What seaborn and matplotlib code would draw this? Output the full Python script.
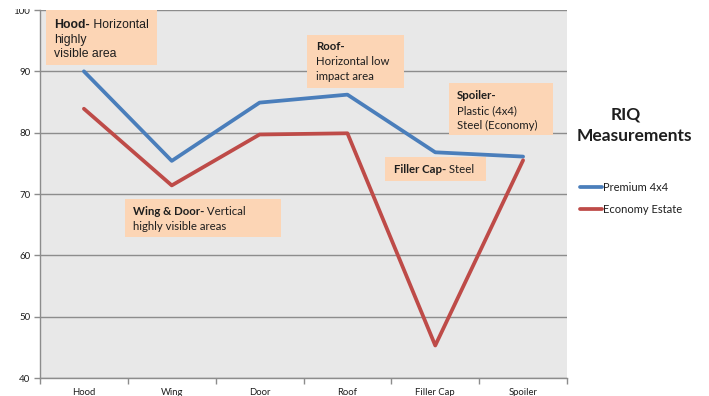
import matplotlib
matplotlib.use("Agg")
import matplotlib.pyplot as plt
import seaborn as sns
import pandas as pd
from matplotlib.patches import Rectangle
from matplotlib.text import Annotation
from matplotlib.ticker import FixedLocator

# RIQ readings per body panel
parts = ["Hood", "Wing", "Door", "Roof", "Filler Cap", "Spoiler"]
premium = [90.0, 75.4, 84.9, 86.2, 76.8, 76.1]
economy = [83.9, 71.4, 79.7, 79.9, 45.3, 75.5]
series_names = ["Premium 4x4", "Economy Estate"]
y_ticks = [40, 50, 60, 70, 80, 90, 100]

df = pd.DataFrame({
    "part": parts * 2,
    "riq": premium + economy,
    "series": [series_names[0]] * len(parts) + [series_names[1]] * len(parts),
})

BLUE = "#4a7ebb"
RED = "#be4b48"
PEACH = "#fcd5b5"
GRID = "#8c8c8c"
TXT = "#1e1e1e"
CAL = ["Lato", "DejaVu Sans"]
ARI = ["Liberation Sans", "DejaVu Sans"]

sns.set_theme(style="white")
plt.rcParams["font.family"] = CAL

W, H = 709, 396
fig = plt.figure(figsize=(W / 100, H / 100), dpi=100)
ax = fig.add_axes([40 / W, 1 - 378 / H, (567 - 40) / W, (378 - 10) / H])
ax.set_facecolor("#e8e8e8")

sns.lineplot(data=df, x="part", y="riq", hue="series", palette=[BLUE, RED],
             sort=False, lw=2.7, ax=ax, legend=False, zorder=3)

ax.set_xlim(-0.5, len(parts) - 0.5)
ax.set_ylim(y_ticks[0], y_ticks[-1])
ax.set_yticks(y_ticks)
ax.set_xticks(range(len(parts)))
ax.set_xticklabels(parts)
ax.xaxis.set_minor_locator(FixedLocator([i - 0.5 for i in range(len(parts) + 1)]))
ax.set_xlabel("")
ax.set_ylabel("")
ax.yaxis.grid(True, color=GRID, lw=1.0)
ax.set_axisbelow(True)
for s in ("top", "right"):
    ax.spines[s].set_visible(False)
for s in ("left", "bottom"):
    ax.spines[s].set_color(GRID)
    ax.spines[s].set_linewidth(1.0)
ax.tick_params(axis="y", which="major", length=4, width=1, color=GRID,
               direction="out", left=True, pad=3, labelsize=7, labelcolor=TXT)
ax.tick_params(axis="x", which="major", length=0, pad=7.5, labelsize=6.8,
               labelcolor=TXT)
ax.tick_params(axis="x", which="minor", length=4, width=1, color=GRID,
               direction="out", bottom=True)


def fx(px):
    return px / W


def fy(py):
    return 1 - py / H


def box(x0, y0, x1, y1, color=PEACH, z=5):
    fig.add_artist(Rectangle((fx(x0), fy(y1)), (x1 - x0) / W, (y1 - y0) / H,
                             transform=fig.transFigure, facecolor=color,
                             edgecolor="none", zorder=z))


def line(x, y, bold, rest, fam, size):
    """One text line: optional bold lead-in followed by regular text."""
    if bold:
        t = fig.text(fx(x), fy(y), bold, fontweight="bold", family=fam,
                     fontsize=size, color=TXT, va="baseline", zorder=6)
        if rest:
            fig.add_artist(Annotation(" " + rest, xy=(1, 0), xycoords=t,
                                      va="bottom", ha="left", family=fam,
                                      fontsize=size, color=TXT, zorder=6))
    else:
        fig.text(fx(x), fy(y), rest, family=fam, fontsize=size, color=TXT,
                 va="baseline", zorder=6)


# white top margin trims the upper part of the chart frame
box(0, 0, 36, 9, color="white", z=4)

CS = 8.2  # annotation font size

# Hood
box(46, 10, 157, 65)
line(54, 28, "Hood-", "Horizontal", ARI, 8.8)
line(54, 43, None, "highly", ARI, 8.8)
line(54, 57, None, "visible area", ARI, 8.8)

# Roof
box(307, 35, 404, 88)
line(316, 50, "Roof-", None, CAL, CS)
line(316, 65, None, "Horizontal low", CAL, CS)
line(316, 80, None, "impact area", CAL, CS)

# Spoiler
box(449, 83, 553, 135)
line(457, 99, "Spoiler-", None, CAL, CS)
line(457, 114, None, "Plastic (4x4)", CAL, CS)
line(457, 129, None, "Steel (Economy)", CAL, CS)

# Filler cap
box(385, 157, 486, 181)
line(394, 173, "Filler Cap-", "Steel", CAL, CS)

# Wing & door
box(125, 199, 281, 237)
line(133, 215, "Wing & Door-", "Vertical", CAL, CS)
line(133, 230, None, "highly visible areas", CAL, CS)

# Legend title and entries
fig.text(fx(626), fy(120), "RIQ", fontweight="bold", fontsize=12.5,
         ha="center", va="baseline", color=TXT)
fig.text(fx(634), fy(141), "Measurements", fontweight="bold", fontsize=12.5,
         ha="center", va="baseline", color=TXT)

fig.legend(handles=ax.lines[:2], labels=series_names, loc="upper left",
           bbox_to_anchor=(fx(580), fy(182)), frameon=False, borderpad=0,
           borderaxespad=0, handlelength=2.0, handletextpad=0.1,
           labelspacing=1.0, fontsize=8, labelcolor=TXT)

fig.savefig("out.png", dpi=100, facecolor="white")
